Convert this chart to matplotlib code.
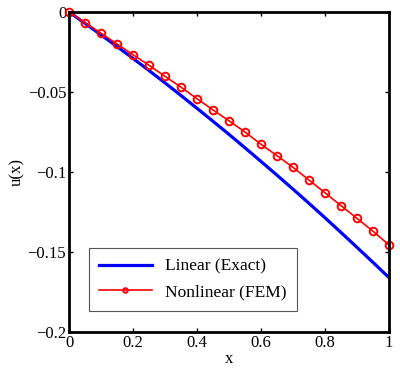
import matplotlib.pyplot as plt

x = [0.0, 0.05, 0.1, 0.15, 0.2, 0.25, 0.3, 0.35, 0.4, 0.45, 0.5,
     0.55, 0.6, 0.65, 0.7, 0.75, 0.8, 0.85, 0.9, 0.95, 1.0]
u_linear = [0.0, -0.0071, -0.0143, -0.0216, -0.0290, -0.0366, -0.0443, -0.0522,
            -0.0602, -0.0683, -0.0765, -0.0849, -0.0934, -0.1020, -0.1107,
            -0.1196, -0.1286, -0.1378, -0.1471, -0.1565, -0.1660]
u_nonlinear = [0.0, -0.0067, -0.0133, -0.0200, -0.0267, -0.0333, -0.0402, -0.0470,
               -0.0542, -0.0612, -0.0680, -0.0750, -0.0827, -0.0898, -0.0971,
               -0.1050, -0.1130, -0.1210, -0.1290, -0.1370, -0.1456]

xticks = [0, 0.2, 0.4, 0.6, 0.8, 1]
xlabels = ['0', '0.2', '0.4', '0.6', '0.8', '1']
yticks = [0, -0.05, -0.1, -0.15, -0.2]
ylabels = ['0', '\u22120.05', '\u22120.1', '\u22120.15', '\u22120.2']

plt.rcParams['font.family'] = ['Liberation Serif', 'DejaVu Serif']
plt.rcParams['font.size'] = 12

fig = plt.figure(figsize=(4, 3.74), dpi=100)
ax = fig.add_axes([0.1725, 0.1123, 0.8, 0.8557])

ax.plot(x, u_linear, color='#0000ff', linewidth=2.3, label='Linear (Exact)')
ax.plot(x, u_nonlinear, color='#ff0000', linewidth=1.2, marker='o', markersize=5.5,
        markerfacecolor='none', markeredgewidth=1.4, clip_on=False,
        label='Nonlinear (FEM)')

ax.set_xlim(0, 1)
ax.set_ylim(-0.2, 0)
ax.set_xticks(xticks)
ax.set_xticklabels(xlabels)
ax.set_yticks(yticks)
ax.set_yticklabels(ylabels)
ax.tick_params(direction='in', length=3, width=1, top=True, right=True, pad=2)
for s in ax.spines.values():
    s.set_linewidth(2)

ax.set_xlabel('x', labelpad=0)
ax.set_ylabel('u(x)', labelpad=2)

leg = ax.legend(loc='lower left', bbox_to_anchor=(0.0625, 0.066), borderaxespad=0,
                fancybox=False, framealpha=1, edgecolor='#555555', handlelength=3.0,
                borderpad=0.6, labelspacing=0.55, markerscale=0.6,
                prop={'size': 12.5})
leg.get_frame().set_linewidth(0.8)

plt.savefig('out.png')
plt.close()
